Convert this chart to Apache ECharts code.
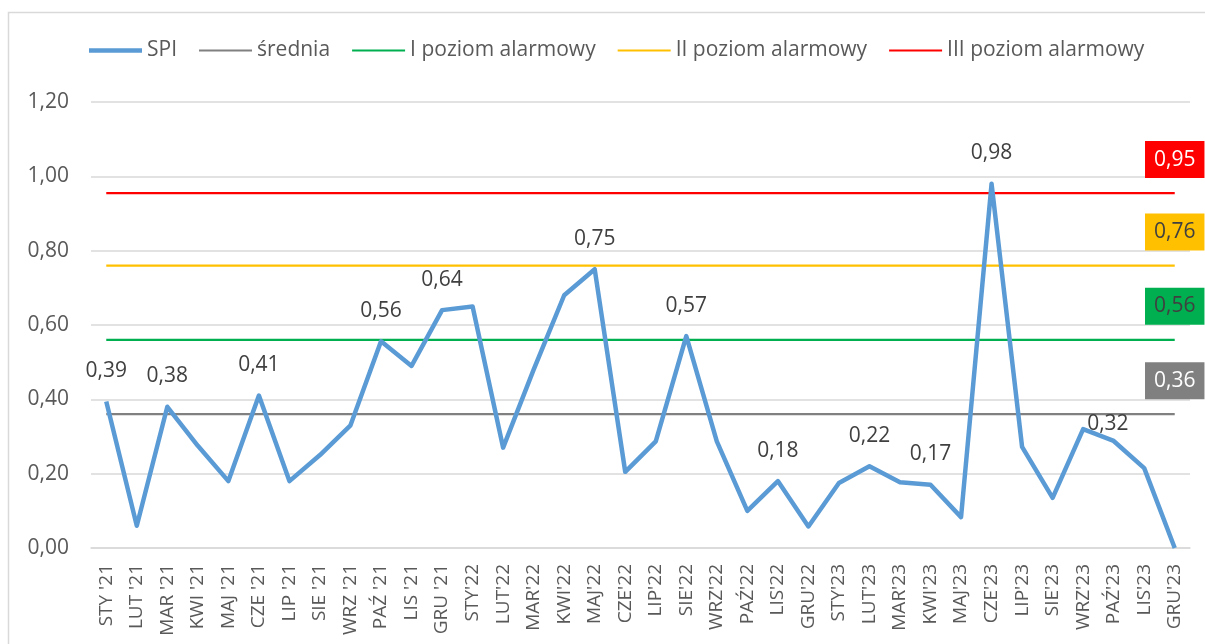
<!DOCTYPE html>
<html>
<head>
<meta charset="utf-8">
<script src="https://cdn.jsdelivr.net/npm/echarts@6/dist/echarts.min.js"></script>
<style>html,body{margin:0;padding:0;background:#fff;}#c{width:1205px;height:644px;}</style>
</head>
<body>
<div id="c"></div>
<script>
const categories = ["STY '21","LUT '21","MAR '21","KWI '21","MAJ '21","CZE '21","LIP '21","SIE '21","WRZ '21","PAŹ '21","LIS '21","GRU '21",
  "STY'22","LUT'22","MAR'22","KWI'22","MAJ'22","CZE'22","LIP'22","SIE'22","WRZ'22","PAŹ'22","LIS'22","GRU'22",
  "STY'23","LUT'23","MAR'23","KWI'23","MAJ'23","CZE'23","LIP'23","SIE'23","WRZ'23","PAŹ'23","LIS'23","GRU'23"];
const spi = [0.394,0.06,0.38,0.275,0.18,0.41,0.18,0.25,0.33,0.556,0.49,0.64,
  0.65,0.27,0.48,0.68,0.75,0.205,0.287,0.57,0.287,0.10,0.18,0.058,
  0.175,0.22,0.177,0.17,0.083,0.98,0.272,0.135,0.32,0.288,0.215,0.0];
const labeledIdx = [0,2,5,9,11,16,19,22,25,27,29,32];
const sideLabelIdx = 32; // label drawn beside the point
const levelNames = ["średnia","I poziom alarmowy","II poziom alarmowy","III poziom alarmowy"];
const levelValues = [0.36,0.56,0.76,0.955];
const levelLabels = ["0,36","0,56","0,76","0,95"];
const levelColors = ["#808080","#00B050","#FFC000","#FF0000"];
const levelTextColors = ["#ffffff","#404040","#404040","#ffffff"];
const yTicks = {min:0, max:1.2, interval:0.2};

const FONT = "Open Sans";
const fmt = v => v.toFixed(2).replace('.', ',');
const last = categories.length - 1;
const ICON_THICK = 'path://M0,0 L0.01,0 M0,0.8 L53,0.8 L53,5.2 L0,5.2 Z M0,6 L0.01,6';
const ICON_THIN = 'path://M0,0 L0.01,0 M0,1.9 L53,1.9 L53,4.1 L0,4.1 Z M0,6 L0.01,6';

const series = [{
  name:'SPI', type:'line', data:spi, symbol:'none', z:3,
  lineStyle:{color:'#5B9BD5', width:4.5, join:'round'}, itemStyle:{color:'#5B9BD5'},
  emphasis:{disabled:true}
}];
levelNames.forEach((n,k) => {
  series.push({
    name:n, type:'line', symbol:'none', z:2,
    lineStyle:{color:levelColors[k], width:2.2}, itemStyle:{color:levelColors[k]},
    emphasis:{disabled:true},
    data:[[0, levelValues[k]], [last, levelValues[k]]]
  });
});
// data labels for SPI (invisible points carrying the labels)
series.push({
  type:'scatter', symbolSize:0, z:5, silent:true, emphasis:{disabled:true},
  itemStyle:{color:'rgba(0,0,0,0)', opacity:1},
  label:{show:true, position:'top', distance:20, fontFamily:FONT, fontSize:21, color:'#404040', formatter:p=>fmt(p.value[1])},
  data:labeledIdx.map(i => {
    const d = {value:[i, spi[i]]};
    if (i === sideLabelIdx) d.label = {position:'right', distance:4, offset:[0,-5]};
    return d;
  })
});
// value boxes at the right end of the level lines
series.push({
  type:'scatter', symbolSize:0, z:5, silent:true, emphasis:{disabled:true},
  itemStyle:{color:'rgba(0,0,0,0)', opacity:1},
  data:levelValues.map((v,k) => ({value:[last, v], label:{
    show:true, position:'top', distance:15, formatter:levelLabels[k],
    backgroundColor:levelColors[k], color:levelTextColors[k], fontFamily:FONT, fontSize:21,
    lineHeight:25, padding:[6,9]
  }}))
});

const chart = echarts.init(document.getElementById('c'), null, {renderer:'canvas'});
chart.setOption({
  animation:false,
  backgroundColor:'#ffffff',
  textStyle:{fontFamily:FONT},
  graphic:[{type:'rect', shape:{x:8.5, y:12.5, width:1400, height:800}, style:{fill:'none', stroke:'#d9d9d9', lineWidth:1.5}, silent:true}],
  legend:{
    left:84, top:35, itemWidth:53, itemHeight:6, itemGap:22,
    textStyle:{fontFamily:FONT, fontSize:21, color:'#595959'},
    data:[{name:'SPI', icon:ICON_THICK}].concat(levelNames.map(n => ({name:n, icon:ICON_THIN})))
  },
  grid:{left:91, right:15, top:102, bottom:96, containLabel:false},
  xAxis:{
    type:'category', data:categories, boundaryGap:true,
    axisLine:{lineStyle:{color:'#d9d9d9', width:1.5}}, axisTick:{show:false},
    axisLabel:{rotate:90, interval:0, margin:16, fontFamily:FONT, fontSize:19, color:'#595959'}
  },
  yAxis:{
    type:'value', min:yTicks.min, max:yTicks.max, interval:yTicks.interval,
    axisLine:{show:false}, axisTick:{show:false},
    splitLine:{lineStyle:{color:'#d9d9d9', width:1.5}},
    axisLabel:{margin:22, fontFamily:FONT, fontSize:21, color:'#595959', formatter:v=>fmt(v)}
  },
  series:series
});
</script>
</body>
</html>
